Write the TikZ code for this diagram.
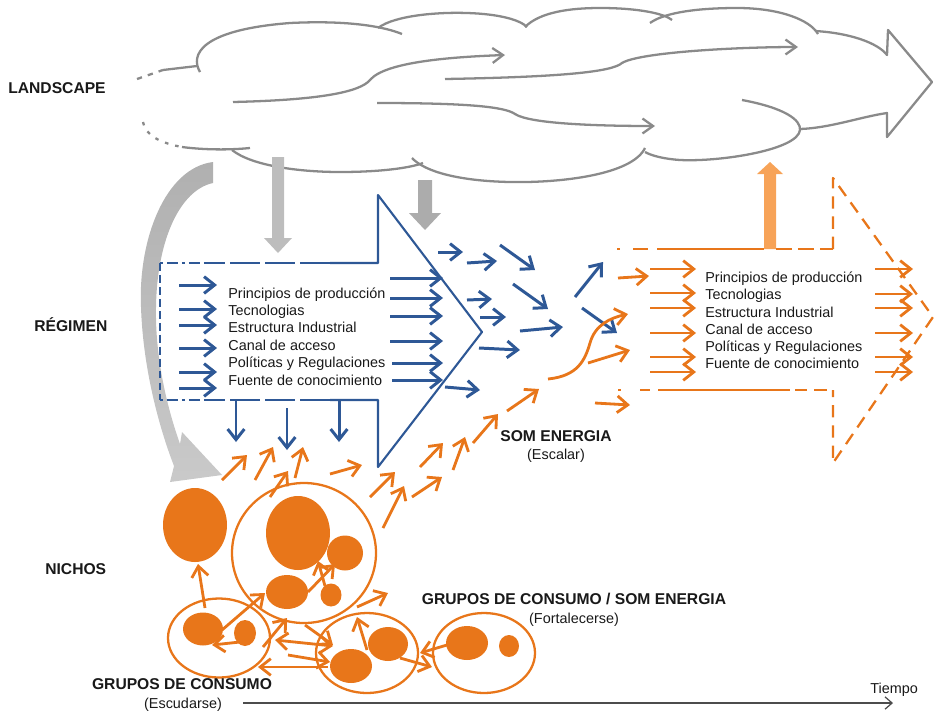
\documentclass[tikz,border=0pt]{standalone}
\usepackage{fontspec}
\setmainfont{Liberation Sans}
\usepackage{tikz}
\usetikzlibrary{arrows.meta}
\definecolor{regblue}{RGB}{46,88,150}
\definecolor{nicheorange}{RGB}{232,118,26}
\definecolor{lightorange}{RGB}{247,163,88}
\definecolor{cloudgray}{RGB}{138,138,138}
\definecolor{pushgray}{RGB}{172,172,172}
\definecolor{txtgray}{RGB}{25,25,25}

\begin{document}
\begin{tikzpicture}[x=0.2mm, y=-0.2mm, line join=round,
    cloudline/.style={cloudgray, line width=1.3pt},
    cloudarrow/.style={cloudline, -{Straight Barb[length=6pt,width=8.5pt]}},
    regline/.style={regblue, line width=1.2pt},
    regarrow/.style={regblue, line width=1.7pt, -{Straight Barb[length=6pt,width=9.5pt]}},
    oraline/.style={nicheorange, line width=1.3pt},
    oraarrow/.style={nicheorange, line width=1.6pt, -{Straight Barb[length=6pt,width=9.5pt]}},
    orabothway/.style={oraarrow, {Straight Barb[length=6pt,width=9.5pt]}-{Straight Barb[length=6pt,width=9.5pt]}},
    ring/.style={draw=nicheorange, line width=1.3pt},
    heading/.style={inner sep=0pt, text=txtgray, font=\fontsize{8.9}{10.5}\selectfont\bfseries},
    note/.style={inner sep=0pt, text=txtgray, font=\fontsize{8.2}{9.8}\selectfont},
    item/.style={note, anchor=base west}]

\useasboundingbox (0,0) rectangle (934,715);

% landscape
\draw[cloudline, dash pattern=on 3pt off 3.5pt] (137,79) -- (163,70);
\draw[cloudline] (163,70) -- (197,66);
\draw[cloudline] (200,72) .. controls (190,55) and (200,30) .. (290,23) .. controls (350,20) and (385,27) .. (402,34);
\draw[cloudline] (378,28) .. controls (395,15) and (440,12) .. (467,13) .. controls (500,14) and (520,20) .. (527,27);
\draw[cloudline] (525,27) .. controls (540,12) and (570,8) .. (600,8) .. controls (640,8) and (665,14) .. (672,20);
\draw[cloudline] (650,23) .. controls (665,12) and (700,8) .. (737,8) .. controls (780,8) and (810,20) .. (818,34);
\draw[cloudline] (815,31) .. controls (850,33) and (878,43) .. (887,55) -- (888,30) -- (932,82) -- (887,137) -- (887,113) .. controls (860,117) and (830,128) .. (800,129);
\draw[cloudline] (742,100) .. controls (785,108) and (801,120) .. (800,130) .. controls (798,150) and (720,162) .. (680,160) .. controls (665,159) and (652,156) .. (645,152);
\draw[cloudline] (645,148) .. controls (632,175) and (560,183) .. (510,182) .. controls (460,181) and (425,172) .. (412,158);
\draw[cloudline] (232,150) .. controls (252,166) and (300,172) .. (340,172) .. controls (380,172) and (410,168) .. (423,163);
\draw[cloudline] (182,147) .. controls (205,150) and (230,150) .. (250,148);
\draw[cloudline, dash pattern=on 2pt off 4pt] (143,122) .. controls (145,135) and (160,143) .. (182,147);
\draw[cloudarrow] (233,102) .. controls (320,100) and (360,92) .. (370,80) .. controls (385,62) and (450,57) .. (505,55);
\draw[cloudarrow] (445,79) .. controls (560,77) and (612,72) .. (622,63) .. controls (640,52) and (740,47) .. (798,47);
\draw[cloudarrow] (377,103) .. controls (470,103) and (505,107) .. (515,114) .. controls (530,124) and (600,126) .. (655,126);

\shade[top color=gray!62, bottom color=gray!42] (213,162) .. controls (165,168) and (138,240) .. (141,307) .. controls (143,370) and (160,430) .. (174,466) -- (170,482) -- (222,475) -- (182,432) -- (180,444) .. controls (168,410) and (155,360) .. (156,307) .. controls (157,240) and (180,190) .. (213,183) -- cycle;
\fill[pushgray!80] (272,157) -- (284,157) -- (284,238) -- (292,238) -- (278,253) -- (264,238) -- (272,238) -- cycle;
\fill[pushgray] (418,180) -- (432,180) -- (432,213) -- (441,213) -- (425,230) -- (409,213) -- (418,213) -- cycle;
\fill[lightorange] (764,249) -- (764,174) -- (757,174) -- (770,162) -- (783,174) -- (776,174) -- (776,249) -- cycle;

% regimen
\draw[regline] (330,263) -- (378,263) -- (378,195) -- (482,332) -- (378,467) -- (378,400) -- (330,400);
\draw[regline, dash pattern=on 17pt off 3pt] (330,263) -- (205,263);
\draw[regline, dash pattern=on 17pt off 3pt] (330,400) -- (205,400);
\draw[regline, dash pattern=on 1.5pt off 2.5pt on 6pt off 2.5pt] (160,263) -- (205,263);
\draw[regline, dash pattern=on 1.5pt off 2.5pt on 6pt off 2.5pt] (160,400) -- (205,400);
\draw[regline, dash pattern=on 4.5pt off 2.3pt] (160,263) -- (160,400);

\node[item] (reg1) at (228,298) {Principios de producción};
\node[item] (reg2) at (228,315) {Tecnologias};
\node[item] (reg3) at (228,332) {Estructura Industrial};
\node[item] (reg4) at (228,350) {Canal de acceso};
\node[item] (reg5) at (228,367) {Políticas y Regulaciones};
\node[item] (reg6) at (228,385) {Fuente de conocimiento};

\draw[regarrow] (179,285) -- (217,285);
\draw[regarrow] (179,309) -- (217,309);
\draw[regarrow] (179,325) -- (217,325);
\draw[regarrow] (179,348) -- (217,348);
\draw[regarrow] (179,372) -- (217,372);
\draw[regarrow] (179,388) -- (217,388);

\draw[regarrow] (390,278) -- (443,278);
\draw[regarrow] (390,298) -- (443,298);
\draw[regarrow] (390,316) -- (443,316);
\draw[regarrow] (390,341) -- (443,341);
\draw[regarrow] (392,363) -- (443,363);
\draw[regarrow] (392,380) -- (443,380);

\draw[regarrow] (236,400) -- (236,442);
\draw[regarrow] (287,408) -- (287,450);
\draw[regarrow] (339,400) -- (339,442);

\draw[regarrow] (438,252) -- (463,252);
\draw[regarrow] (467,263) -- (497,261);
\draw[regarrow] (500,245) -- (535,270);
\draw[regarrow] (513,284) -- (548,309);
\draw[regarrow] (467,300) -- (492,299);
\draw[regarrow] (480,317) -- (506,317);
\draw[regarrow] (520,331) -- (563,327);
\draw[regarrow] (479,348) -- (520,350);
\draw[regarrow] (445,387) -- (480,390);
\draw[regarrow] (575,297) -- (603,262);
\draw[regarrow] (582,308) -- (617,333);

% new regime
\draw[oraline] (617,249) -- (620,249);
\draw[oraline] (633,249) -- (648,249);
\draw[oraline] (657,249) -- (764,249);
\draw[oraline, dash pattern=on 9pt off 3.5pt] (776,249) -- (833,249);
\draw[oraline, dash pattern=on 7pt off 4.5pt] (833,249) -- (833,178) -- (933,317) -- (833,463) -- (833,390);
\draw[oraline] (618,390) -- (621,390);
\draw[oraline] (640,390) -- (650,390);
\draw[oraline] (658,390) -- (790,390);
\draw[oraline, dash pattern=on 7pt off 4pt] (795,390) -- (833,390);

\node[item] (new1) at (705,282) {Principios de producción};
\node[item] (new2) at (705,299) {Tecnologias};
\node[item] (new3) at (705,317) {Estructura Industrial};
\node[item] (new4) at (705,334) {Canal de acceso};
\node[item] (new5) at (705,351) {Políticas y Regulaciones};
\node[item] (new6) at (705,368) {Fuente de conocimiento};

\draw[oraarrow] (650,269) -- (696,269);
\draw[oraarrow] (650,293) -- (696,293);
\draw[oraarrow] (650,308) -- (696,308);
\draw[oraarrow] (650,333) -- (696,333);
\draw[oraarrow] (650,357) -- (696,357);
\draw[oraarrow] (650,372) -- (696,372);

\draw[oraarrow] (875,269) -- (913,269);
\draw[oraarrow] (875,294) -- (913,294);
\draw[oraarrow] (875,308) -- (913,308);
\draw[oraarrow] (875,333) -- (913,333);
\draw[oraarrow] (875,357) -- (913,357);
\draw[oraarrow] (875,372) -- (913,372);

\draw[oraarrow] (618,278) -- (649,276);
\draw[oraarrow] (548,379) .. controls (578,376) and (585,360) .. (590,343) .. controls (595,325) and (610,318) .. (628,314);
\draw[oraarrow] (588,363) -- (630,350);
\draw[oraarrow] (595,403) -- (630,405);

\draw[oraarrow] (222,480) -- (247,455);
\draw[oraarrow] (255,480) -- (273,447);
\draw[oraarrow] (270,497) -- (288,471);
\draw[oraarrow] (295,478) -- (303,447);
\draw[oraarrow] (330,474) -- (362,465);
\draw[oraarrow] (370,497) -- (395,472);
\draw[oraarrow] (383,528) -- (404,486);
\draw[oraarrow] (412,497) -- (442,477);
\draw[oraarrow] (420,467) -- (443,443);
\draw[oraarrow] (453,470) -- (465,437);
\draw[oraarrow] (473,443) -- (498,414);
\draw[oraarrow] (507,411) -- (539,389);

% niches
\fill[nicheorange] (195,525) ellipse [x radius=6.4mm, y radius=7.4mm];
\draw[ring] (304,553) ellipse [x radius=14.4mm, y radius=14mm];
\fill[nicheorange] (298,533) ellipse [x radius=6.4mm, y radius=7.4mm];
\fill[nicheorange] (345,553) ellipse [x radius=3.6mm, y radius=3.5mm];
\fill[nicheorange] (287,592) ellipse [x radius=4.2mm, y radius=3.4mm];
\fill[nicheorange] (331,595) ellipse [x radius=2.1mm, y radius=2.3mm];

\draw[ring] (219,638) ellipse [x radius=10.2mm, y radius=7.9mm];
\fill[nicheorange] (203,629) ellipse [x radius=4mm, y radius=3.3mm];
\fill[nicheorange] (245,633) ellipse [x radius=2.2mm, y radius=2.6mm];

\draw[ring] (367,653) ellipse [x radius=10.2mm, y radius=8mm];
\fill[nicheorange] (351,666) ellipse [x radius=4.2mm, y radius=3.4mm];
\fill[nicheorange] (388,644) ellipse [x radius=4mm, y radius=3.4mm];

\draw[ring] (484,653) ellipse [x radius=10.2mm, y radius=8mm];
\fill[nicheorange] (467,643) ellipse [x radius=4.2mm, y radius=3.4mm];
\fill[nicheorange] (509,646) ellipse [x radius=2mm, y radius=2.2mm];

\draw[oraarrow] (205,608) -- (198,564);
\draw[oraarrow] (240,642) -- (212,645);
\draw[oraarrow] (222,630) -- (265,593);
\draw[oraarrow] (325,586) -- (318,561);
\draw[oraarrow] (308,592) -- (335,564);
\draw[oraarrow] (263,647) -- (287,618);
\draw[orabothway] (275,640) -- (333,646);
\draw[oraarrow] (305,625) -- (333,645);
\draw[oraarrow] (328,667) -- (258,667);
\draw[oraarrow] (288,655) -- (330,662);
\draw[oraarrow] (367,650) -- (357,617);
\draw[oraarrow] (357,607) -- (388,593);
\draw[oraarrow] (447,645) -- (420,653);
\draw[oraarrow] (400,658) -- (432,667);

% labels
\node[heading, anchor=base west] (landscape) at (8,93.5) {LANDSCAPE};
\node[heading, anchor=base west] (regimen) at (34,331.5) {RÉGIMEN};
\node[heading, anchor=base west] (nichos) at (45,574.5) {NICHOS};
\node[heading, anchor=base] (somtitle) at (556,441.5) {SOM ENERGIA};
\node[note, anchor=base] (somnote) at (556,459) {(Escalar)};
\node[heading, anchor=base] (bothtitle) at (574,604.5) {GRUPOS DE CONSUMO / SOM ENERGIA};
\node[note, anchor=base] (bothnote) at (574,623) {(Fortalecerse)};
\node[heading, anchor=base] (grptitle) at (182,689.5) {GRUPOS DE CONSUMO};
\node[note, anchor=base] (grpnote) at (183,708) {(Escudarse)};

\node[note, anchor=base west] (tiempo) at (870,693) {Tiempo};
\coordinate (tstart) at (243,703);
\coordinate (tend) at (893,703);
\draw[black!70, line width=0.7pt, -{Straight Barb[length=4pt,width=7pt]}] (tstart) -- (tend);
\end{tikzpicture}
\end{document}
